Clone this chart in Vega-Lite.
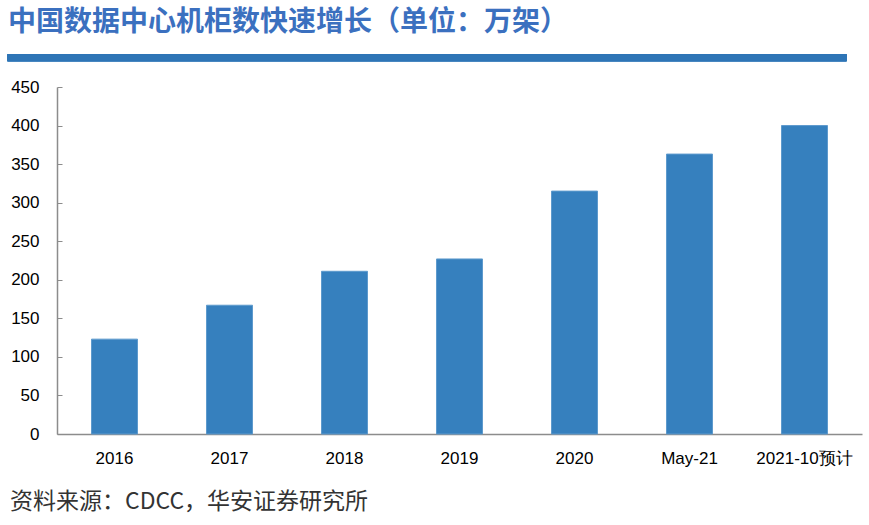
{
  "$schema": "https://vega.github.io/schema/vega-lite/v6.json",
  "background": "white",
  "padding": {"left": 4, "top": 9, "right": 5, "bottom": 8},
  "title": {
    "text": "中国数据中心机柜数快速增长（单位：万架）",
    "anchor": "start",
    "font": "Noto Sans CJK SC",
    "fontSize": 28,
    "fontWeight": "bold",
    "color": "#3B70BF",
    "offset": 17,
    "dx": 4
  },
  "config": {"view": {"stroke": null}},
  "vconcat": [
    {
      "width": 805,
      "height": 347,
      "title": {
        "text": "资料来源：CDCC，华安证券研究所",
        "orient": "bottom",
        "anchor": "start",
        "frame": "bounds",
        "font": "Noto Sans CJK SC",
        "fontSize": 23,
        "fontWeight": "normal",
        "color": "#333333",
        "offset": 25,
        "dx": 6
      },
      "data": {
        "values": [
          {"period": "2016", "racks": 123},
          {"period": "2017", "racks": 167},
          {"period": "2018", "racks": 211},
          {"period": "2019", "racks": 227},
          {"period": "2020", "racks": 315},
          {"period": "May-21", "racks": 363},
          {"period": "2021-10预计", "racks": 400}
        ]
      },
      "resolve": {"scale": {"x": "independent"}},
      "layer": [
        {
          "mark": {"type": "bar", "color": "#3680BE", "stroke": "#5E9ACD", "strokeWidth": 1},
          "encoding": {
            "x": {
              "field": "period",
              "type": "nominal",
              "sort": null,
              "scale": {"paddingInner": 0.6, "paddingOuter": 0.3},
              "axis": {
                "title": null,
                "labelAngle": 0,
                "ticks": false,
                "labelPadding": 16,
                "labelFont": "Liberation Sans",
                "labelFontSize": 17,
                "labelColor": "#000000",
                "domainColor": "#8c8c8c",
                "domainWidth": 1.5
              }
            },
            "y": {
              "field": "racks",
              "type": "quantitative",
              "scale": {"domain": [0, 450], "nice": false},
              "axis": {
                "title": null,
                "values": [0, 50, 100, 150, 200, 250, 300, 350, 400, 450],
                "labelOverlap": false,
                "grid": false,
                "tickSize": -5,
                "tickColor": "#8c8c8c",
                "domainColor": "#8c8c8c",
                "domainWidth": 1.5,
                "labelPadding": 23,
                "minExtent": 49,
                "labelFont": "Liberation Sans",
                "labelFontSize": 17,
                "labelColor": "#000000"
              }
            }
          }
        },
        {
          "mark": {"type": "rule", "color": "#2E75B6", "strokeWidth": 7, "clip": false},
          "encoding": {
            "x": {"datum": -49.5, "type": "quantitative", "scale": {"domain": [0, 805], "nice": false, "zero": false}, "axis": null},
            "x2": {"datum": 789.5},
            "y": {
              "datum": 488,
              "type": "quantitative",
              "axis": {
                "title": null,
                "values": [0, 50, 100, 150, 200, 250, 300, 350, 400, 450],
                "labelOverlap": false,
                "grid": false,
                "tickSize": -5,
                "tickColor": "#8c8c8c",
                "domainColor": "#8c8c8c",
                "domainWidth": 1.5,
                "labelPadding": 23,
                "minExtent": 49,
                "labelFont": "Liberation Sans",
                "labelFontSize": 17,
                "labelColor": "#000000"
              }
            }
          }
        }
      ]
    }
  ]
}
